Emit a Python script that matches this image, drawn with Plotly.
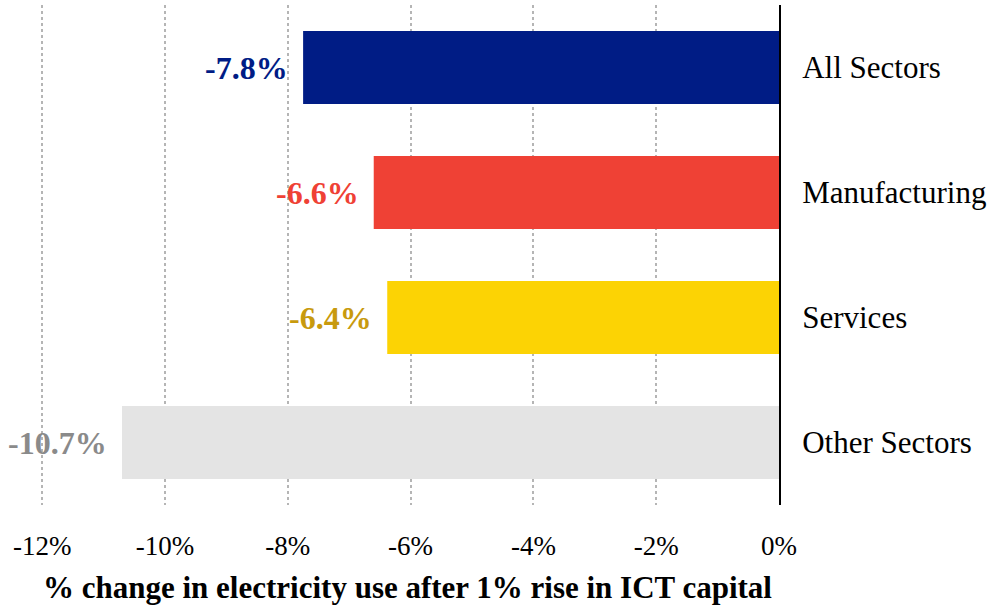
import plotly.graph_objects as go

categories = ["All Sectors", "Manufacturing", "Services", "Other Sectors"]
values = [-7.75, -6.6, -6.38, -10.7]
value_labels = ["-7.8%", "-6.6%", "-6.4%", "-10.7%"]
bar_colors = ["#001c85", "#ef4135", "#fcd304", "#e4e4e4"]
label_colors = ["#001c85", "#ef4135", "#c89a0e", "#8a8a8a"]
tick_vals = [-12, -10, -8, -6, -4, -2, 0]
tick_text = ["-12%", "-10%", "-8%", "-6%", "-4%", "-2%", "0%"]
x_title = "<b>% change in electricity use after 1% rise in ICT capital</b>"

FONT = "Liberation Serif"

fig = go.Figure()
fig.add_trace(go.Bar(
    x=values, y=categories, orientation="h",
    marker=dict(color=bar_colors, line=dict(width=0)),
    width=0.585, cliponaxis=False, showlegend=False,
))

for c, v, lab, col in zip(categories, values, value_labels, label_colors):
    fig.add_annotation(
        x=v, y=c, text=f"<b>{lab}</b>", showarrow=False,
        xanchor="right", xshift=-13, yshift=0,
        font=dict(family=FONT, size=32, color=col),
    )

fig.update_layout(
    width=992, height=612,
    margin=dict(l=36, r=213, t=5, b=107),
    plot_bgcolor="white", paper_bgcolor="white",
    font=dict(family=FONT, size=27, color="black"),
    bargap=0.4,
)
fig.update_xaxes(
    range=[-12.1, 0], tickvals=tick_vals, ticktext=tick_text,
    showgrid=True, gridcolor="#b5b5b5", griddash="dot", gridwidth=2,
    zeroline=False, showline=False, ticks="", ticklabelstandoff=22,
    tickfont=dict(family=FONT, size=27),
    title=dict(text=x_title, font=dict(family=FONT, size=31), standoff=16),
)
fig.update_yaxes(
    categoryorder="array", categoryarray=categories[::-1],
    range=[-0.5, 3.5], side="right",
    showgrid=False, zeroline=False,
    showline=True, linecolor="black", linewidth=2, mirror=False,
    ticks="outside", ticklen=15, tickcolor="white",
    tickfont=dict(family=FONT, size=31),
)
fig.write_html("out.html")
